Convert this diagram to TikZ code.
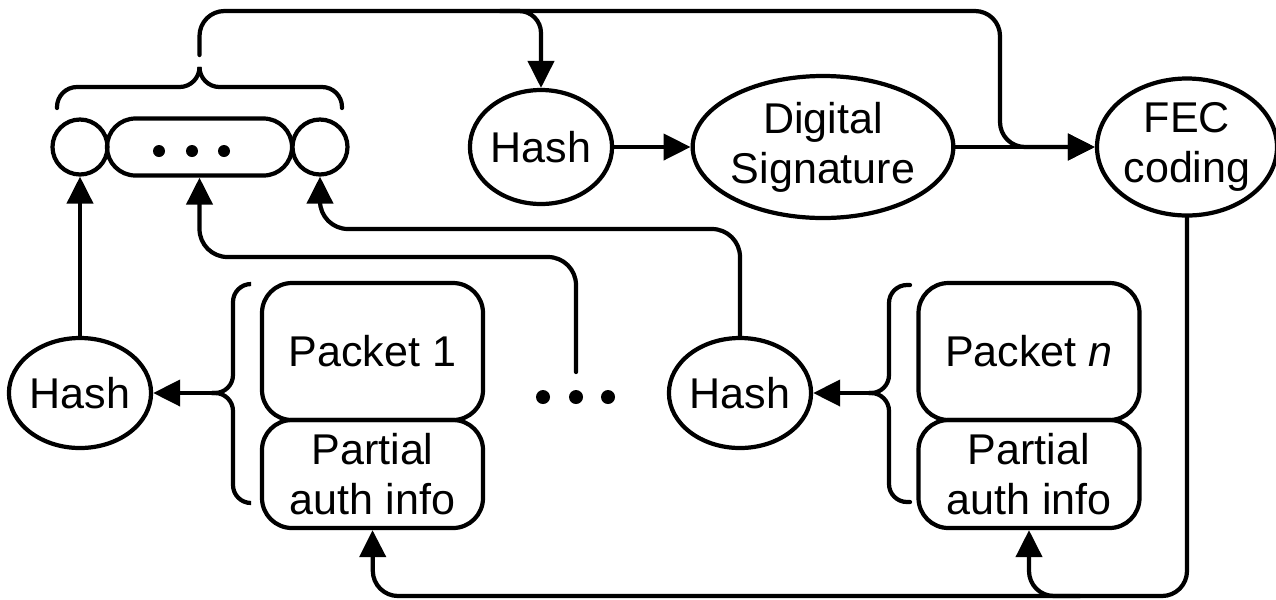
\documentclass[tikz,border=0pt]{standalone}
\usepackage{fontspec}
\setmainfont{Liberation Sans}
\usetikzlibrary{shapes.geometric,arrows.meta}
\begin{document}
\begin{tikzpicture}[x=0.2mm,y=-0.2mm,line width=2.4pt,line cap=round,
    every node/.style={font=\fontsize{24.5}{28.5}\selectfont,align=center,inner sep=0pt},
    oval/.style={draw,ellipse},
    pkt/.style={draw,rounded corners=6mm,minimum width=44.2mm},
    ring/.style={draw,circle,minimum size=11mm},
    arr/.style={-{Triangle[length=5.4mm,width=5.2mm]}}]
\useasboundingbox (0,0) rectangle (1276,599);
% row of hashes at the top left
\node[ring] (left) at (80,147) {};
\node[draw,rounded corners=5.7mm,minimum width=37mm,minimum height=11.4mm] (mid) at (199.5,147) {};
\node[ring] (right) at (320,147) {};
\foreach \x in {159,192,224} \fill (\x,151) circle (1.2mm);
\draw[rounded corners=4mm] (57,108) |- (199.5,87) -- (199.5,67);
\draw[rounded corners=4mm] (342,108) |- (199.5,87) -- (199.5,67);
\coordinate (stem) at (199.5,55);
% signing chain
\node[oval,minimum width=26.8mm,minimum height=22.8mm] (hashtop) at (541,147) {Hash};
\node[oval,minimum width=50mm,minimum height=28.4mm] (sig) at (823,147) {Digital\\Signature};
\node[oval,minimum width=36mm,minimum height=27.4mm] (fec) at (1187,147) {FEC\\coding};
\draw[arr,rounded corners=5mm] (stem) |- (1000,11) |- (fec.west);
\draw[arr,rounded corners=4.4mm] (500,11) -| (hashtop.north);
\draw[arr] (hashtop) -- (sig);
\draw[arr] (sig) -- (fec);
% packets
\node[pkt,minimum height=27.4mm] (pkt1) at (372.5,351.5) {Packet 1};
\node[pkt,minimum height=21.6mm] (auth1) at (372.5,474) {Partial\\auth info};
\node[pkt,minimum height=27.4mm] (pktn) at (1029,351.5) {Packet \textit{n}};
\node[pkt,minimum height=21.6mm] (authn) at (1029,474) {Partial\\auth info};
\node[oval,minimum width=26.4mm,minimum height=22mm] (hash1) at (80,393) {Hash};
\node[oval,minimum width=26.4mm,minimum height=22mm] (hashn) at (740,393) {Hash};
\foreach \x in {543,576,608} \fill (\x,397) circle (1.4mm);
% braces round the packets
\draw[rounded corners=3.6mm] (251,284) -| (233,393) -- (212,393);
\draw[rounded corners=3.6mm] (251,503) -| (233,393) -- (212,393);
\coordinate (tip1) at (212,393);
\draw[rounded corners=3.6mm] (910,285) -| (889,393) -- (869,393);
\draw[rounded corners=3.6mm] (910,502) -| (889,393) -- (869,393);
\coordinate (tipn) at (869,393);
\draw[arr] (tip1) -- (hash1);
\draw[arr] (tipn) -- (hashn);
% hashes up to the row
\draw[arr] (hash1) -- (left);
\coordinate (dotsend) at (576,372);
\draw[arr,rounded corners=5.6mm] (dotsend) |- (199.5,257) -- (mid.south);
\draw[arr,rounded corners=5.6mm] (hashn.north) |- (320,229) -- (right.south);
% FEC output back to the packets
\draw[arr,rounded corners=5mm] (fec.south) |- (373,596) -- (auth1.south);
\draw[arr,rounded corners=5mm] (1080,596) -| (authn.south);
\end{tikzpicture}
\end{document}
